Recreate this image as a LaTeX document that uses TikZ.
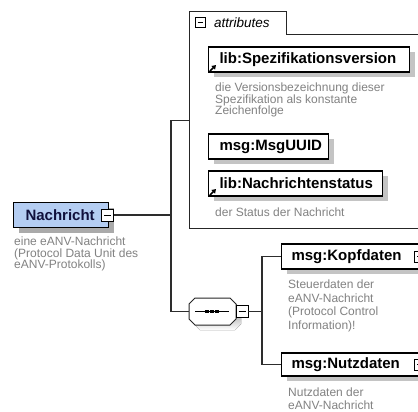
\documentclass[tikz,border=0pt]{standalone}
\usepackage{fontspec}
\setmainfont{Liberation Sans}
\usetikzlibrary{arrows.meta,shadows}

\definecolor{elemblue}{RGB}{180,205,242}
\definecolor{navytext}{RGB}{16,16,60}
\definecolor{desc}{RGB}{130,130,130}
\definecolor{shade}{RGB}{196,196,196}
\definecolor{darkshade}{RGB}{170,170,170}
\definecolor{wire}{RGB}{45,45,45}

\begin{document}
\begin{tikzpicture}[x=1pt,y=-1pt,
  elem/.style={draw=black, line width=1.1pt, fill=white, minimum height=25pt,
    inner ysep=0pt, inner xsep=11pt, align=left, anchor=west,
    font=\fontsize{15}{15}\selectfont\bfseries,
    drop shadow={shadow xshift=5pt, shadow yshift=-5pt, fill=shade, opacity=1}},
  desctext/.style={text=desc, align=left, inner sep=0pt, anchor=north west,
    font=\fontsize{12}{11.5}\selectfont},
  toggle/.style={draw=black, line width=0.8pt, fill=white, minimum size=11pt,
    inner sep=0pt,
    path picture={\draw[line width=0.8pt]
      ([xshift=2.5pt]path picture bounding box.west) --
      ([xshift=-2.5pt]path picture bounding box.east);}},
  conn/.style={draw=wire, line width=1.3pt},
  frame/.style={draw=black!85, line width=1pt},
  refarrow/.style={line width=1.6pt, -{Triangle[length=4pt,width=5pt]}},
]
\useasboundingbox[fill=white] (0,0) rectangle (418,412);

% ---- root element ----
\node[elem, fill=elemblue, text=navytext, text width=71pt, inner xsep=12pt,
      drop shadow={shadow xshift=5pt, shadow yshift=-5pt, fill=darkshade, opacity=1}]
  (nachricht) at (13,215) {Nachricht};
\node[toggle, minimum size=12pt] (nmin) at ([xshift=-1.5pt]nachricht.east) {};
\node[desctext] (nachdesc) at (14,237)
  {eine eANV-Nachricht\\(Protocol Data Unit des\\eANV-Protokolls)};

% ---- attribute group ----
\node[inner sep=0pt, minimum width=240pt, minimum height=216pt, anchor=north west]
  (attrs) at (189,12) {};
\draw[frame] (attrs.south west) -- (attrs.north west) -- ++(97,0) -- ++(0,23)
  -- (attrs.north east |- 0,35);
\draw[frame] (attrs.south west) -- (attrs.south east);
\node[toggle, minimum size=10pt] (amin) at (200,22) {};
\node[anchor=west, inner sep=0pt, font=\fontsize{13.5}{13.5}\selectfont\itshape]
  (atitle) at (214,23) {attributes};

\node[elem, text width=179pt] (spez) at (208,59.5) {lib:Spezifikationsversion};
\draw[refarrow] ([shift={(2pt,1.5pt)}]spez.south west) -- ++(6,-6);
\node[desctext] (spezdesc) at (215,83)
  {die Versionsbezeichnung dieser\\Spezifikation als konstante\\Zeichenfolge};

\node[elem, text width=98pt] (uuid) at (208,146.5) {msg:MsgUUID};

\node[elem, text width=152pt] (status) at (208,183.5) {lib:Nachrichtenstatus};
\draw[refarrow] ([shift={(2pt,1.5pt)}]status.south west) -- ++(6,-6);
\node[desctext] (statusdesc) at (215,208) {der Status der Nachricht};

% ---- sequence compositor ----
\begin{scope}[shift={(5,5)}]
  \fill[shade] (195,298) -- (230,298) -- (236,304) -- (236,319) -- (230,325)
    -- (195,325) -- (189,319) -- (189,304) -- cycle;
\end{scope}
\draw[frame, fill=white] (195,298) -- (230,298) -- (236,304) -- (236,319)
  -- (230,325) -- (195,325) -- (189,319) -- (189,304) -- cycle;
\node[inner sep=0pt, minimum width=47pt, minimum height=27pt] (seq) at (212.5,311.5) {};
\draw[line width=1.2pt] (195,311.5) -- (229,311.5);
\foreach \dx in {207,212,217}
  \fill (\dx-1.6,310) rectangle (\dx+1.6,313);
\node[toggle, minimum size=12pt] (smin) at (242,311.5) {};

% ---- sequence children ----
\node[elem, text width=118pt, inner xsep=10pt] (kopf) at (281,256.5) {msg:Kopfdaten};
\node[toggle] (kmin) at (kopf.east) {};
\node[desctext, font=\fontsize{12}{13.4}\selectfont] (kopfdesc) at (288,280)
  {Steuerdaten der\\eANV-Nachricht\\(Protocol Control\\Information)!};

\node[elem, text width=118pt, inner xsep=10pt, minimum height=23pt] (nutz) at (281,364.5) {msg:Nutzdaten};
\node[toggle] (numin) at (nutz.east) {};
\node[desctext, font=\fontsize{12}{13}\selectfont] (nutzdesc) at (288,388)
  {Nutzdaten der\\eANV-Nachricht};

% ---- connectors ----
\coordinate (trunk) at (171,215);
\coordinate (fork) at (262,311.5);
\draw[conn] (nmin.east) -- (trunk);
\draw[conn] (attrs.west) -| (trunk) |- (seq.west);
\draw[conn] (smin.east) -- (fork);
\draw[conn] (kopf.west) -| (fork) |- (nutz.west);
\end{tikzpicture}
\end{document}
